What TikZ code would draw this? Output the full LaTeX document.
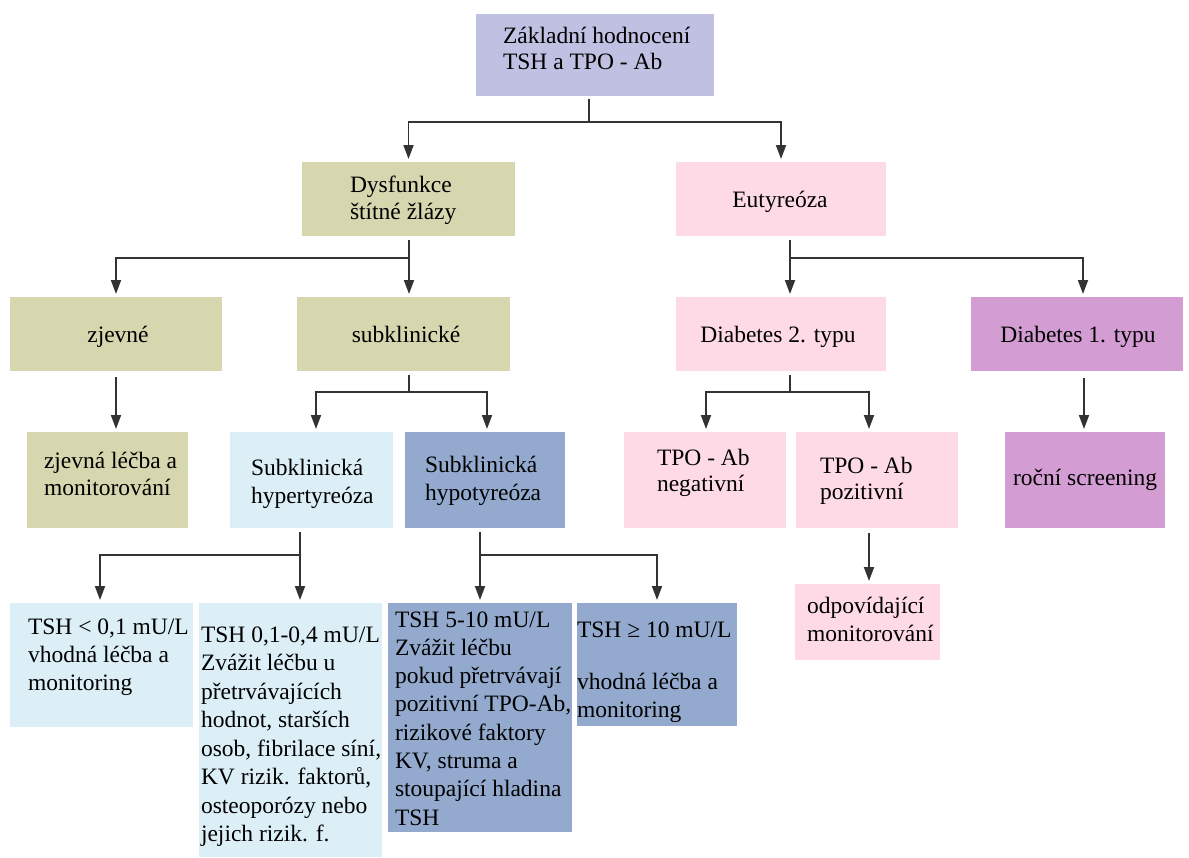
\documentclass[tikz,border=0pt]{standalone}
\usepackage{fontspec}
\setmainfont{Liberation Serif}
\usetikzlibrary{arrows.meta}
\definecolor{lav}{HTML}{C0C0E2}
\definecolor{olive}{HTML}{D6D7AE}
\definecolor{pinkb}{HTML}{FDDAE6}
\definecolor{purp}{HTML}{D39CD3}
\definecolor{cyanb}{HTML}{DCEFF7}
\definecolor{slate}{HTML}{93AACE}
\definecolor{linec}{HTML}{333333}
\newcommand\Lrow[1]{\hbox{#1}}
\newcommand\Lblock[2]{\vtop{\baselineskip=#1pt\lineskiplimit=-1000pt\relax #2}}
\tikzset{
  box/.style={draw=none, inner sep=0pt, outer sep=0pt, anchor=north west},
  conn/.style={draw=linec, line width=1.8pt},
  arr/.style={conn, -{Triangle[length=14pt,width=10pt]}, shorten >=3pt},
  txt/.style={inner sep=0pt, outer sep=0pt, anchor=base west, text=black},
  ctxt/.style={inner sep=0pt, outer sep=0pt, anchor=base, text=black},
}
\begin{document}
\begin{tikzpicture}[x=1pt,y=-1pt, font=\rmfamily\fontsize{23.5}{28}\selectfont]
\useasboundingbox (0,0) rectangle (1189,857);
\fill[white] (0,0) rectangle (1189,857);
% boxes
\node[box, fill=lav,   minimum width=238pt, minimum height=82pt]  (top)   at (476,14) {};
\node[box, fill=olive, minimum width=213pt, minimum height=74pt]  (dys)   at (302,162) {};
\node[box, fill=pinkb, minimum width=210pt, minimum height=74pt]  (eut)   at (676,162) {};
\node[box, fill=olive, minimum width=212pt, minimum height=74pt]  (zjev)  at (10,297) {};
\node[box, fill=olive, minimum width=213pt, minimum height=74pt]  (subk)  at (297,297) {};
\node[box, fill=pinkb, minimum width=210pt, minimum height=74pt]  (dtwo)  at (676,297) {};
\node[box, fill=purp,  minimum width=212pt, minimum height=74pt]  (done)  at (971,297) {};
\node[box, fill=olive, minimum width=161pt, minimum height=96pt]  (zl)    at (27,432) {};
\node[box, fill=cyanb, minimum width=163pt, minimum height=96pt]  (hyper) at (230,432) {};
\node[box, fill=slate, minimum width=160pt, minimum height=96pt]  (hypo)  at (405,432) {};
\node[box, fill=pinkb, minimum width=162pt, minimum height=96pt]  (neg)   at (624,432) {};
\node[box, fill=pinkb, minimum width=162pt, minimum height=96pt]  (poz)   at (796,432) {};
\node[box, fill=purp,  minimum width=160pt, minimum height=96pt]  (roc)   at (1005,432) {};
\node[box, fill=pinkb, minimum width=145pt, minimum height=76pt]  (odp)   at (795,584) {};
\node[box, fill=cyanb, minimum width=183pt, minimum height=124pt] (tshA)  at (10,603) {};
\node[box, fill=cyanb, minimum width=183pt, minimum height=254pt] (tshB)  at (199,603) {};
\node[box, fill=slate, minimum width=184pt, minimum height=229pt] (tshC)  at (388,603) {};
\node[box, fill=slate, minimum width=160pt, minimum height=123pt] (tshD)  at (577,603) {};
% texts
\node[txt] (top-t) at (503,43) {\Lblock{26}{\Lrow{Základní hodnocení}\Lrow{TSH a TPO - Ab}}};
\node[txt] (dys-t) at (350,192) {\Lblock{27}{\Lrow{Dysfunkce}\Lrow{štítné žlázy}}};
\node[ctxt] (eut-t) at (780,207) {Eutyreóza};
\node[ctxt] (zjev-t) at (118,342) {zjevné};
\node[ctxt] (subk-t) at (406,342) {subklinické};
\node[ctxt] (dtwo-t) at (778,342) {Diabetes 2. typu};
\node[ctxt] (done-t) at (1078,342) {Diabetes 1. typu};
\node[txt] (zl-t) at (44,468) {\Lblock{27}{\Lrow{zjevná léčba a}\Lrow{monitorování}}};
\node[txt] (hyper-t) at (251,475) {\Lblock{28}{\Lrow{Subklinická}\Lrow{hypertyreóza}}};
\node[txt] (hypo-t) at (425,472) {\Lblock{28}{\Lrow{Subklinická}\Lrow{hypotyreóza}}};
\node[txt] (neg-t) at (657,465) {\Lblock{26}{\Lrow{TPO - Ab}\Lrow{negativní}}};
\node[txt] (poz-t) at (820,473) {\Lblock{26}{\Lrow{TPO - Ab}\Lrow{pozitivní}}};
\node[txt] (roc-t) at (1013,485) {roční screening};
\node[txt] (odp-t) at (807,613) {\Lblock{28}{\Lrow{odpovídající}\Lrow{monitorování}}};
\node[txt] (tshA-t) at (28,634) {\Lblock{28.3}{\Lrow{TSH < 0,1 mU/L}\Lrow{vhodná léčba a}\Lrow{monitoring}}};
\node[txt] (tshB-t) at (201,642) {\Lblock{28.57}{\Lrow{TSH 0,1-0,4 mU/L}\Lrow{Zvážit léčbu u}\Lrow{přetrvávajících}\Lrow{hodnot, starších}\Lrow{osob, fibrilace síní,}\Lrow{KV rizik. faktorů,}\Lrow{osteoporózy nebo}\Lrow{jejich rizik. f.}}};
\node[txt] (tshC-t) at (395,627) {\Lblock{28.3}{\Lrow{TSH 5-10 mU/L}\Lrow{Zvážit léčbu}\Lrow{pokud přetrvávají}\Lrow{pozitivní TPO-Ab,}\Lrow{rizikové faktory}\Lrow{KV, struma a}\Lrow{stoupající hladina}\Lrow{TSH}}};
\node[txt] (tshD-t) at (577,637) {TSH ≥ 10 mU/L};
\node[txt] (tshD-u) at (577,689) {\Lblock{28.5}{\Lrow{vhodná léčba a}\Lrow{monitoring}}};
% junction coordinates and arrow columns
\coordinate (j1) at (589,122);
\coordinate (j2) at (409,258);
\coordinate (j3) at (790,258);
\coordinate (j4) at (409,392);
\coordinate (j5) at (790,392);
\coordinate (j6) at (300,555);
\coordinate (j7) at (480,555);
\coordinate (xdone) at (1083,0);
\coordinate (xzl) at (116,0);
\coordinate (xhyper) at (316,0);
\coordinate (xhypo) at (487,0);
\coordinate (xneg) at (706,0);
\coordinate (xpoz) at (869,0);
\coordinate (xroc) at (1084,0);
\coordinate (xA) at (100,0);
\coordinate (xD) at (657,0);
% connectors
\draw[conn, shorten <=3pt] (j1 |- top.south) -- (j1);
\draw[arr] (j1) -| (dys.north);
\draw[arr] (j1) -| (eut.north);
\draw[conn, shorten <=4pt] (j2 |- dys.south) -- (j2);
\draw[arr] (j2) -| (zjev.north);
\draw[arr] (j2) -- (j2 |- subk.north);
\draw[conn, shorten <=4pt] (j3 |- eut.south) -- (j3);
\draw[arr] (j3) -- (j3 |- dtwo.north);
\draw[arr] (j3) -| (xdone |- done.north);
\draw[arr, shorten <=6pt] (xzl |- zjev.south) -- (xzl |- zl.north);
\draw[conn, shorten <=4pt] (j4 |- subk.south) -- (j4);
\draw[arr] (j4) -| (xhyper |- hyper.north);
\draw[arr] (j4) -| (xhypo |- hypo.north);
\draw[conn, shorten <=4pt] (j5 |- dtwo.south) -- (j5);
\draw[arr] (j5) -| (xneg |- neg.north);
\draw[arr] (j5) -| (xpoz |- poz.north);
\draw[arr, shorten <=7pt] (xroc |- done.south) -- (xroc |- roc.north);
\draw[conn, shorten <=4pt] (j6 |- hyper.south) -- (j6);
\draw[arr] (j6) -| (xA |- tshA.north);
\draw[arr] (j6) -- (j6 |- tshB.north);
\draw[conn, shorten <=4pt] (j7 |- hypo.south) -- (j7);
\draw[arr] (j7) -- (j7 |- tshC.north);
\draw[arr] (j7) -| (xD |- tshD.north);
\draw[arr, shorten <=5pt] (xpoz |- poz.south) -- (xpoz |- odp.north);
\end{tikzpicture}
\end{document}
